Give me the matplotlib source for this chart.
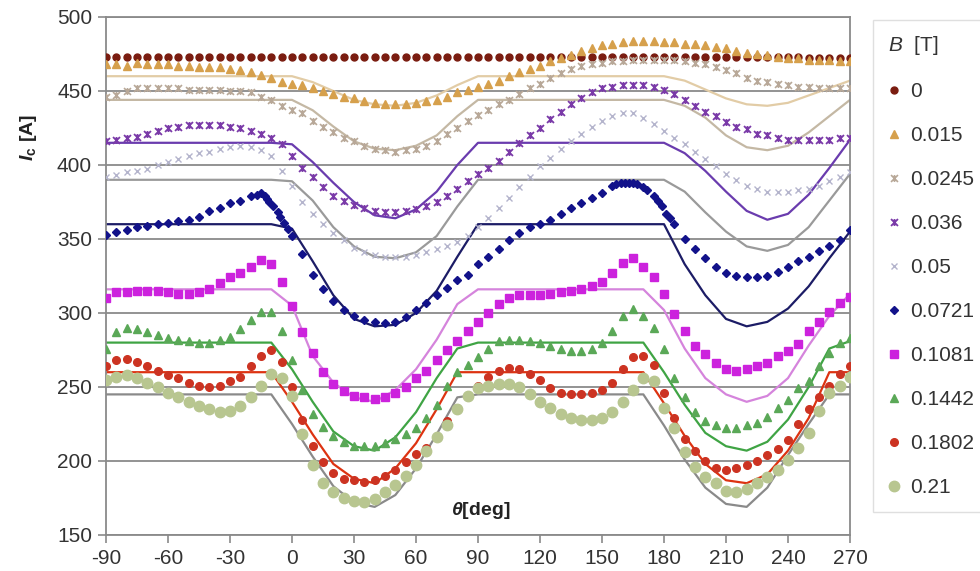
import numpy as np
import matplotlib
matplotlib.use("Agg")
import matplotlib.pyplot as plt
from matplotlib.path import Path

plt.rcParams['font.family'] = ['Liberation Sans', 'DejaVu Sans']
plt.rcParams['mathtext.fontset'] = 'custom'
plt.rcParams['mathtext.rm'] = 'Liberation Sans'
plt.rcParams['mathtext.it'] = 'Liberation Sans:italic'
plt.rcParams['mathtext.bf'] = 'Liberation Sans:bold'
plt.rcParams['mathtext.bfit'] = 'Liberation Sans:italic:bold'
plt.rcParams['axes.unicode_minus'] = False

# measured points every 5 deg
theta = np.arange(-90, 271, 5)
# model curves every 10 deg
theta_fit = np.arange(-90, 271, 10)

ic_0 = [473, 473, 473, 473, 473, 473, 473, 473, 473,
        473, 473, 473, 473, 473, 473, 473, 473, 473,
        473, 473, 473, 473, 473, 473, 473, 473, 473,
        473, 473, 473, 473, 473, 473, 473, 473, 473,
        473, 473, 473, 473, 473, 473, 473, 473, 473,
        473, 473, 473, 473, 473, 473, 473, 473, 473,
        473, 473, 473, 473, 473, 473, 473, 473, 473,
        473, 473, 473, 473, 473, 472, 472, 472, 472,
        472]
ic_015 = [468, 468, 467, 469, 468, 468, 468, 467, 467,
          466, 466, 466, 465, 464, 463, 461, 459, 456,
          455, 454, 452, 450, 448, 446, 445, 443, 442,
          441, 441, 441, 442, 443, 444, 446, 449, 451,
          453, 455, 457, 460, 463, 465, 467, 470, 472,
          474, 477, 479, 481, 482, 483, 484, 484, 484,
          483, 483, 482, 482, 481, 480, 479, 477, 476,
          475, 474, 473, 472, 472, 471, 471, 471, 470,
          470]
ic_0245 = [446, 447, 450, 452, 452, 452, 452, 452, 451,
           451, 451, 451, 450, 450, 449, 446, 444, 440,
           437, 435, 430, 426, 422, 418, 416, 413, 411,
           410, 409, 410, 411, 413, 416, 421, 425, 430,
           434, 437, 441, 444, 448, 452, 455, 459, 462,
           465, 467, 468, 469, 470, 470, 471, 471, 471,
           471, 471, 470, 469, 468, 466, 464, 462, 459,
           457, 456, 455, 454, 453, 453, 452, 452, 452,
           452]
ic_036 = [416, 417, 418, 419, 421, 423, 425, 426, 427,
          427, 427, 427, 426, 425, 423, 421, 418, 414,
          406, 398, 392, 385, 379, 376, 373, 371, 369,
          368, 368, 369, 370, 372, 375, 379, 384, 389,
          394, 398, 403, 409, 415, 420, 425, 431, 436,
          441, 445, 449, 452, 453, 454, 454, 454, 453,
          451, 448, 444, 440, 436, 433, 429, 426, 424,
          421, 420, 418, 417, 417, 417, 417, 417, 418,
          418]
ic_05 = [392, 393, 395, 396, 397, 400, 402, 404, 406,
         408, 409, 411, 412, 413, 412, 410, 406, 396,
         386, 375, 367, 360, 354, 349, 344, 341, 339,
         338, 338, 338, 339, 341, 343, 345, 348, 352,
         358, 364, 371, 378, 385, 392, 399, 405, 411,
         416, 421, 426, 430, 433, 435, 435, 432, 428,
         423, 418, 414, 409, 404, 399, 394, 390, 386,
         384, 382, 382, 382, 383, 384, 386, 389, 392,
         395]
theta_0721 = [-90, -85, -80, -75, -70, -65, -60, -55, -50, -45, -40, -35, -30, -25,
              -20, -17, -15, -13, -12, -11, -9, -7, -6, -4, -2, 0, 5, 10, 15, 20,
              25, 30, 35, 40, 45, 50, 55, 60, 65, 70, 75, 80, 85, 90, 95, 100,
              105, 110, 115, 120, 125, 130, 135, 140, 145, 150, 155, 157, 159, 161,
              163, 165, 167, 170, 172, 175, 177, 179, 181, 183, 185, 190, 195, 200,
              205, 210, 215, 220, 225, 230, 235, 240, 245, 250, 255, 260, 265, 270]
ic_0721 = [353, 355, 356, 358, 359, 360, 361, 362, 363, 365, 369, 371, 374, 376,
           379, 380, 381, 379, 377, 375, 372, 368, 365, 361, 357, 352, 340, 326, 316, 308,
           302, 298, 295, 294, 293, 294, 297, 302, 307, 312, 317, 322, 326, 333, 338, 343,
           349, 354, 358, 360, 363, 367, 371, 374, 378, 381, 386, 387, 388, 388,
           388, 388, 387, 385, 383, 379, 376, 372, 367, 364, 360, 350, 343, 337,
           331, 327, 325, 324, 324, 325, 328, 331, 335, 338, 342, 345, 349, 356]
ic_1081 = [310, 314, 314, 315, 315, 315, 314, 313, 313,
           314, 316, 320, 324, 327, 331, 336, 333, 321,
           305, 287, 273, 260, 252, 247, 244, 243, 242,
           243, 246, 250, 256, 261, 268, 275, 281, 288,
           294, 300, 306, 310, 312, 312, 312, 313, 314,
           315, 316, 318, 321, 327, 334, 337, 331, 324,
           313, 299, 288, 278, 272, 266, 262, 261, 262,
           264, 266, 271, 274, 279, 288, 294, 301, 307,
           311]
ic_1442 = [276, 287, 290, 289, 287, 285, 283, 282, 281,
           280, 280, 282, 284, 289, 295, 301, 301, 288,
           268, 248, 232, 223, 217, 213, 210, 210, 210,
           212, 215, 218, 222, 229, 238, 251, 260, 265,
           270, 276, 281, 282, 282, 281, 280, 278, 276,
           274, 274, 276, 280, 288, 298, 303, 298, 290,
           276, 256, 243, 233, 227, 224, 222, 222, 224,
           226, 230, 236, 241, 249, 254, 264, 273, 280,
           283]
ic_1802 = [264, 268, 269, 267, 264, 261, 258, 256, 253,
           251, 250, 251, 254, 257, 264, 271, 275, 267,
           250, 228, 210, 199, 192, 188, 187, 186, 187,
           190, 194, 199, 205, 209, 216, 227, 236, 244,
           251, 257, 261, 263, 262, 259, 255, 249, 246,
           245, 245, 246, 248, 253, 262, 270, 271, 265,
           246, 229, 215, 207, 200, 195, 194, 195, 197,
           200, 204, 208, 214, 225, 235, 243, 251, 259,
           264]
ic_21 = [255, 257, 258, 256, 253, 250, 246, 243, 240,
         237, 235, 233, 234, 237, 243, 251, 259, 256,
         244, 218, 197, 185, 179, 175, 173, 172, 174,
         179, 184, 190, 197, 207, 216, 224, 235, 244,
         249, 251, 252, 252, 250, 245, 240, 236, 232,
         229, 228, 228, 229, 233, 240, 248, 256, 254,
         236, 222, 206, 196, 189, 185, 180, 179, 181,
         185, 189, 194, 201, 209, 219, 234, 246, 251,
         257]

# model curves (10 deg steps)
fit_015 = [460, 460, 460, 460, 460, 460, 460, 460, 460,
           460, 456, 450, 444, 441, 440, 442, 447, 454,
           460, 460, 460, 460, 460, 460, 460, 460, 460, 460,
           457, 451, 445, 441, 440, 442, 447, 452, 457]
fit_0245 = [444, 444, 444, 444, 444, 444, 444, 444, 444,
            444, 437, 426, 416, 411, 410, 413, 420, 433,
            444, 444, 444, 444, 444, 444, 444, 444, 444, 444,
            440, 432, 420, 412, 410, 413, 422, 433, 444]
fit_036 = [415, 415, 415, 415, 415, 415, 415, 415, 415,
           414, 402, 388, 375, 366, 364, 370, 382, 400,
           415, 415, 415, 415, 415, 415, 415, 415, 415, 415,
           408, 396, 382, 369, 363, 367, 380, 398, 417]
fit_05 = [390, 390, 390, 390, 390, 390, 390, 390, 390,
          389, 376, 358, 345, 338, 337, 341, 352, 372,
          390, 390, 390, 390, 390, 390, 390, 390, 390, 390,
          382, 368, 355, 345, 342, 346, 358, 376, 394]
fit_0721 = [360, 360, 360, 360, 360, 360, 360, 360, 360,
            357, 335, 312, 296, 291, 292, 300, 315, 338,
            360, 360, 360, 360, 360, 360, 360, 360, 360, 360,
            333, 312, 296, 291, 294, 303, 318, 337, 355]
fit_1081 = [316, 316, 316, 316, 316, 316, 316, 316, 316,
            305, 271, 253, 243, 240, 248, 262, 282, 306,
            316, 316, 316, 316, 316, 316, 316, 316, 316,
            302, 276, 256, 245, 240, 244, 256, 278, 298, 313]
fit_1442 = [280, 280, 280, 280, 280, 280, 280, 280, 280,
            262, 240, 220, 210, 207, 216, 233, 256, 276,
            280, 280, 280, 280, 280, 280, 280, 280, 280,
            260, 238, 219, 210, 207, 213, 228, 250, 276, 281]
fit_1802 = [260, 260, 260, 260, 260, 260, 260, 260, 260,
            240, 218, 198, 188, 185, 195, 212, 235, 260,
            260, 260, 260, 260, 260, 260, 260, 260, 260,
            239, 217, 198, 187, 185, 191, 207, 229, 260, 260]
fit_21 = [245, 245, 245, 245, 245, 245, 245, 245, 245,
          225, 203, 183, 172, 169, 177, 195, 218, 243,
          245, 245, 245, 245, 245, 245, 245, 245, 245,
          224, 201, 182, 171, 169, 182, 204, 225, 245, 245]

# x with a vertical bar, like the spreadsheet "star" marker
star = Path([(-1, -1), (1, 1), (-1, 1), (1, -1), (0, -1), (0, 1)],
            [Path.MOVETO, Path.LINETO, Path.MOVETO, Path.LINETO, Path.MOVETO, Path.LINETO])

fig = plt.figure(figsize=(9.8, 5.71), dpi=100)
ax = fig.add_axes([106/980, 36/571, 744/980, 518/571])

# model lines
ax.plot(theta_fit, fit_015, color='#e2cca6', lw=1.6, zorder=2)
ax.plot(theta_fit, fit_0245, color='#c4b8a4', lw=1.6, zorder=2)
ax.plot(theta_fit, fit_036, color='#6a3cae', lw=1.6, zorder=2)
ax.plot(theta_fit, fit_05, color='#9a9a9a', lw=1.6, zorder=2)
ax.plot(theta_fit, fit_0721, color='#1c1c66', lw=1.6, zorder=2)
ax.plot(theta_fit, fit_1081, color='#d584dc', lw=1.6, zorder=2)
ax.plot(theta_fit, fit_1442, color='#3fa444', lw=1.6, zorder=2)
ax.plot(theta_fit, fit_1802, color='#dd3311', lw=1.6, zorder=2)
ax.plot(theta_fit, fit_21, color='#8a8a8a', lw=1.6, zorder=2)

# measured data
ax.plot(theta, ic_0, ls='none', marker='o', ms=5, color='#7a1c10', label='0', zorder=3)
ax.plot(theta, ic_015, ls='none', marker='^', ms=6, color='#d6a04c', label='0.015', zorder=3)
ax.plot(theta, ic_0245, ls='none', marker=star, ms=5, mew=1.2, color='#b8a898', label='0.0245', zorder=3)
ax.plot(theta, ic_036, ls='none', marker=star, ms=5, mew=1.3, color='#7a3aa8', label='0.036', zorder=3)
ax.plot(theta, ic_05, ls='none', marker='x', ms=5, mew=1.0, color='#b4b4cc', label='0.05', zorder=3)
ax.plot(theta_0721, ic_0721, ls='none', marker='D', ms=4, color='#12128a', label='0.0721', zorder=3)
ax.plot(theta, ic_1081, ls='none', marker='s', ms=5.5, color='#cc22dd', label='0.1081', zorder=3)
ax.plot(theta, ic_1442, ls='none', marker='^', ms=6, color='#5aa857', label='0.1442', zorder=3)
ax.plot(theta, ic_1802, ls='none', marker='o', ms=5.5, color='#cc3322', label='0.1802', zorder=3)
ax.plot(theta, ic_21, ls='none', marker='o', ms=7.5, color='#b8c690', label='0.21', zorder=3)

ax.set_xlim(-90, 270)
ax.set_ylim(150, 500)
ax.set_xticks(range(-90, 271, 30))
ax.set_yticks(range(150, 501, 50))
ax.yaxis.grid(True, color='#8a8a8a', lw=1.3)
ax.set_axisbelow(True)
for s in ax.spines.values():
    s.set_color('#8a8a8a')
    s.set_linewidth(1.3)
ax.tick_params(direction='out', length=6, width=1.2, color='#8a8a8a',
               labelsize=15, labelcolor='#333333', pad=4)

ax.set_ylabel(r'$\mathbfit{I}_\mathbf{c}$ [A]', fontsize=14, fontweight='bold', color='#222222')
ax.yaxis.set_label_coords(-0.09, 0.768)
ax.text(0.503, 0.048, r'$\mathbfit{\theta}$[deg]', transform=ax.transAxes,
        ha='center', va='center', fontsize=14, fontweight='bold', color='#222222')

leg = fig.legend(loc='lower left', bbox_to_anchor=(873/980, 59/571), title=r'$B$  [T]',
                 fontsize=15, title_fontsize=15, frameon=True, fancybox=False,
                 handlelength=0.6, handletextpad=0.5, labelspacing=1.2,
                 borderpad=0.7, borderaxespad=0, alignment='left')
leg.get_frame().set_edgecolor('#d8d8d8')
leg.get_frame().set_linewidth(1.0)
for t in leg.get_texts():
    t.set_color('#333333')
leg.get_title().set_color('#333333')

fig.savefig('out.png', dpi=100)
